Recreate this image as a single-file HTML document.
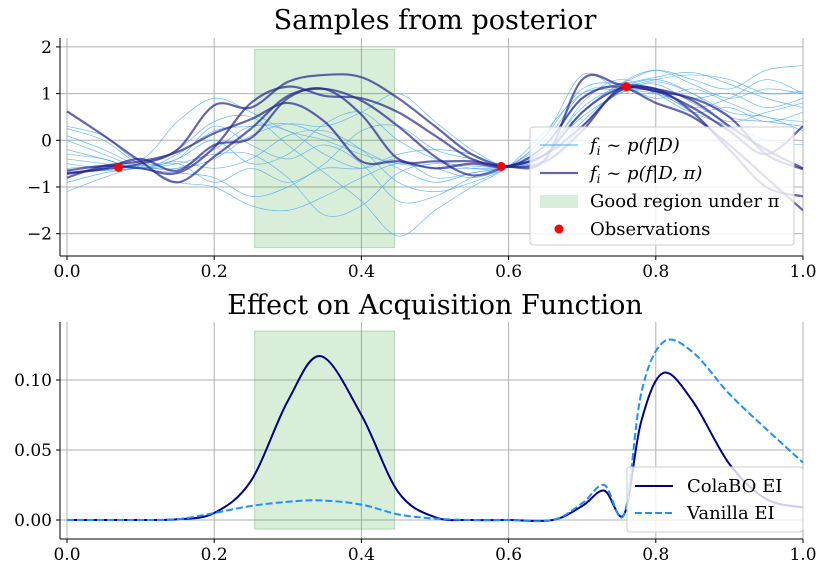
<!DOCTYPE html>
<html><head><meta charset="utf-8"><style>
body{margin:0;background:#fff;}
svg{display:block;font-family:"DejaVu Serif","Liberation Serif",serif;}
</style></head><body>
<svg id="chart" width="830" height="577" viewBox="0 0 830 577" xmlns="http://www.w3.org/2000/svg"></svg>
<script>
const xTicks=[0,0.2,0.4,0.6,0.8,1.0];
const xTickLabels=["0.0","0.2","0.4","0.6","0.8","1.0"];
const topYTicks=[2,1,0,-1,-2];
const topYTickLabels=["2","1","0","\u22121","\u22122"];
const botYTicks=[0,0.05,0.10];
const botYTickLabels=["0.00","0.05","0.10"];
const sampleX=[0,0.05,0.1,0.15,0.2,0.25,0.3,0.35,0.4,0.45,0.5,0.55,0.6,0.65,0.7,0.75,0.8,0.85,0.9,0.95,1.0];
const darkSamples=[
[0.62,0.1,-0.45,-0.9,-0.35,0.25,0.95,1.1,0.85,0.3,-0.35,-0.75,-0.55,-0.3,0.6,1.1,1.05,0.7,0.2,-0.3,0.3],
[-0.7,-0.62,-0.5,-0.2,0.75,0.7,1.25,1.4,1.35,0.9,0.3,-0.3,-0.56,-0.4,1.3,1.2,1.05,0.9,0.5,-0.3,-0.62],
[-0.72,-0.6,-0.4,-0.65,-0.1,0.05,0.9,1.1,0.55,-0.4,-0.45,-0.45,-0.55,-0.3,0.3,1.05,1.1,0.6,-0.2,-1.0,-1.2],
[-0.8,-0.55,-0.45,-0.25,0.15,0.45,0.8,0.4,-0.45,-0.45,-0.6,-0.5,-0.56,-0.1,0.9,1.15,0.8,0.5,-0.1,-0.8,-1.5],
[-0.65,-0.55,-0.6,-0.7,-0.15,0.8,1.15,0.95,0.9,0.6,0.1,-0.4,-0.57,-0.45,0.2,1.1,1.1,0.85,0.3,-0.2,-0.6]];
const lightSamples=[
[0.3,0.1,-0.4,0.4,0.9,0.6,0.2,0.0,-0.3,-0.5,-0.6,-0.8,-0.56,0.0,1.0,1.2,1.5,1.3,1.1,1.5,1.6],
[-0.3,-0.4,-0.6,-0.3,0.2,0.3,0.35,0.1,-0.2,-0.6,-0.9,-0.7,-0.56,-0.2,0.6,1.1,1.3,1.0,0.5,0.4,0.3],
[-1.1,-0.8,-0.6,-0.9,-1.0,-1.4,-1.5,-1.2,-0.8,-0.5,-0.6,-0.6,-0.56,-0.1,0.9,1.2,1.1,0.9,1.0,0.7,0.9],
[0.1,-0.2,-0.55,-0.6,-0.4,0.1,0.35,0.3,0.6,1.0,0.4,-0.2,-0.56,-0.3,0.8,1.3,1.0,0.6,0.7,0.4,0.6],
[-0.4,-0.5,-0.6,-0.5,-0.3,-0.3,-0.8,-1.6,-1.4,-0.7,-0.5,-0.55,-0.56,-0.2,0.5,1.0,1.25,1.0,0.6,0.5,0.2],
[-0.6,-0.55,-0.55,-0.45,-0.6,-0.4,0.1,0.2,-0.2,-0.9,-1.1,-0.9,-0.56,0.1,1.4,1.1,1.05,0.6,0.3,0.0,-0.1],
[0.0,-0.3,-0.6,-0.7,-0.8,-1.2,-1.0,-0.5,0.2,0.3,-0.2,-0.4,-0.56,-0.3,0.6,1.2,1.5,1.2,0.9,1.1,1.0],
[-0.9,-0.7,-0.55,-0.2,0.4,0.5,-0.1,-0.7,-1.3,-2.05,-1.5,-1.0,-0.56,0.2,1.0,1.1,1.2,0.8,0.4,0.6,0.8],
[-0.5,-0.6,-0.58,-0.6,-0.2,0.3,0.2,-0.3,-0.6,-0.4,-0.8,-0.7,-0.56,-0.4,0.4,1.05,1.3,1.4,1.3,1.0,1.05],
[-0.2,-0.4,-0.6,-0.4,0.0,-0.5,-0.3,0.35,0.6,0.0,-0.4,-0.6,-0.56,0.1,1.1,1.2,0.9,1.1,0.8,0.5,0.4],
[-0.7,-0.65,-0.6,-0.5,-0.9,-0.6,-0.9,-0.6,-0.6,-0.3,-0.2,-0.3,-0.56,-0.2,0.7,1.15,1.35,1.45,1.2,0.9,0.7],
[0.25,0.0,-0.5,-0.4,0.3,-0.1,-0.4,-0.1,-0.5,-1.3,-1.2,-0.8,-0.56,-0.5,0.3,1.0,1.0,0.7,0.9,1.3,1.0]];
const obsX=[0.07,0.59,0.76];
const obsY=[-0.58,-0.56,1.15];
const acqX=[0,0.1,0.15,0.2,0.25,0.3,0.345,0.4,0.45,0.5,0.55,0.6,0.66,0.7,0.73,0.757,0.78,0.81,0.85,0.9,0.95,1.0];
const colaboEI=[0,0,0.0005,0.005,0.028,0.085,0.117,0.075,0.02,0.002,0,0,0,0.01,0.021,0.004,0.07,0.105,0.085,0.04,0.015,0.009];
const vanillaEI=[0,0,0.0005,0.005,0.01,0.013,0.014,0.011,0.004,0.001,0,0,0,0.012,0.025,0.004,0.09,0.127,0.12,0.09,0.065,0.041];
const regionLo=0.255, regionHi=0.445;

const NS="http://www.w3.org/2000/svg";
const svg=document.getElementById('chart');
function mk(t,a,p){const e=document.createElementNS(NS,t);for(const k in a)e.setAttribute(k,a[k]);(p||svg).appendChild(e);return e;}
const X0=67,X1=803;
const xs=v=>X0+v*(X1-X0);
const ysTop=v=>140.3-v*46.7;
const ysBot=v=>520-v*1400;
function smoothPath(px,py){let d=`M${px[0]},${py[0]}`;for(let i=0;i<px.length-1;i++){const x0=px[Math.max(i-1,0)],y0=py[Math.max(i-1,0)],x1=px[i],y1=py[i],x2=px[i+1],y2=py[i+1],x3=px[Math.min(i+2,px.length-1)],y3=py[Math.min(i+2,px.length-1)];d+=` C${x1+(x2-x0)/6},${y1+(y2-y0)/6} ${x2-(x3-x1)/6},${y2-(y3-y1)/6} ${x2},${y2}`;}return d;}

function axes(ys,yT,top,bottom,prefix){
  const g=mk('g',{});
  
  
  xTicks.forEach(t=>{const l=mk('line',{x1:xs(t),x2:xs(t),y1:top,y2:bottom,stroke:'#b0b0b0','stroke-width':1},g);});
  yT.forEach(t=>{const l=mk('line',{x1:60,x2:803,y1:ys(t),y2:ys(t),stroke:'#b0b0b0','stroke-width':1},g);});
}
function axisFrame(ys,yT,yL,top,bottom,title,titleY,prefix){
  const g=mk('g',{});
  
  
  mk('line',{x1:60,x2:60,y1:top,y2:bottom,stroke:'#000','stroke-width':1},g);
  mk('line',{x1:60,x2:803,y1:bottom,y2:bottom,stroke:'#000','stroke-width':1},g);
  xTicks.forEach((t,i)=>{mk('line',{x1:xs(t),x2:xs(t),y1:bottom,y2:bottom+4,stroke:'#000'},g);const tx=mk('text',{x:xs(t),y:bottom+21,'text-anchor':'middle','font-size':17},g);tx.textContent=xTickLabels[i];});
  yT.forEach((t,i)=>{mk('line',{x1:56,x2:60,y1:ys(t),y2:ys(t),stroke:'#000'},g);const tx=mk('text',{x:52,y:ys(t)+6,'text-anchor':'end','font-size':17},g);tx.textContent=yL[i];});
  const tt=mk('text',{x:435,y:titleY,'text-anchor':'middle','font-size':27},g);tt.textContent=title;
  
  
}
// TOP
axes(ysTop,topYTicks,38,256,'top');
const r1=mk('rect',{x:xs(regionLo),y:ysTop(1.95),width:xs(regionHi)-xs(regionLo),height:ysTop(-2.3)-ysTop(1.95),fill:'#2ca02c','fill-opacity':0.18,stroke:'#2ca02c','stroke-opacity':0.3});


const clipTop=mk('clipPath',{id:'ct'});mk('rect',{x:60,y:38,width:743,height:218},clipTop);
const gTop=mk('g',{'clip-path':'url(#ct)'});
lightSamples.forEach(s=>{const p=mk('path',{d:smoothPath(sampleX.map(xs),s.map(ysTop)),fill:'none',stroke:'#4aa8f0','stroke-width':0.7,'stroke-opacity':0.8},gTop);});
darkSamples.forEach(s=>{const p=mk('path',{d:smoothPath(sampleX.map(xs),s.map(ysTop)),fill:'none',stroke:'#23238e','stroke-width':2.2,'stroke-opacity':0.7},gTop);});
obsX.forEach((x,i)=>{const c=mk('circle',{cx:xs(x),cy:ysTop(obsY[i]),r:4.5,fill:'#ff0000'});});
axisFrame(ysTop,topYTicks,topYTickLabels,38,256,'Samples from posterior',29,'top');
// top legend
const lg=mk('g',{});


mk('rect',{x:530,y:127,width:264,height:118,rx:3,fill:'#fff','fill-opacity':0.8,stroke:'#ccc'},lg);
mk('line',{x1:540,x2:578,y1:145,y2:145,stroke:'#4aa8f0','stroke-width':1},lg);
mk('line',{x1:540,x2:578,y1:173,y2:173,stroke:'#23238e','stroke-width':2.2,'stroke-opacity':0.7},lg);
mk('rect',{x:540,y:195,width:38,height:13,fill:'#2ca02c','fill-opacity':0.18},lg);
mk('circle',{cx:559,cy:229,r:4.5,fill:'#f00'},lg);
let t=mk('text',{x:590,y:151,'font-size':18,'font-style':'italic'},lg);t.innerHTML='f<tspan font-size="12" dy="4">i</tspan><tspan dy="-4"> ~ p(f|D)</tspan>';
t=mk('text',{x:590,y:179,'font-size':18,'font-style':'italic'},lg);t.innerHTML='f<tspan font-size="12" dy="4">i</tspan><tspan dy="-4"> ~ p(f|D, π)</tspan>';
t=mk('text',{x:590,y:207,'font-size':18},lg);t.textContent='Good region under π';
t=mk('text',{x:590,y:235,'font-size':18},lg);t.textContent='Observations';
// BOTTOM
axes(ysBot,botYTicks,322,539,'bottom');
const r2=mk('rect',{x:xs(regionLo),y:ysBot(0.135),width:xs(regionHi)-xs(regionLo),height:ysBot(-0.0065)-ysBot(0.135),fill:'#2ca02c','fill-opacity':0.18,stroke:'#2ca02c','stroke-opacity':0.3});


const pc=mk('path',{d:smoothPath(acqX.map(xs),colaboEI.map(ysBot)),fill:'none',stroke:'#000080','stroke-width':2});


const pv=mk('path',{d:smoothPath(acqX.map(xs),vanillaEI.map(ysBot)),fill:'none',stroke:'#1e90ff','stroke-width':2,'stroke-dasharray':'7,3'});


axisFrame(ysBot,botYTicks,botYTickLabels,322,539,'Effect on Acquisition Function',314,'bottom');
const lg2=mk('g',{});


mk('rect',{x:627,y:467,width:176,height:65,rx:3,fill:'#fff','fill-opacity':0.8,stroke:'#ccc'},lg2);
mk('line',{x1:635,x2:673,y1:486,y2:486,stroke:'#000080','stroke-width':2},lg2);
mk('line',{x1:635,x2:673,y1:513,y2:513,stroke:'#1e90ff','stroke-width':2,'stroke-dasharray':'7,3'},lg2);
t=mk('text',{x:687,y:492,'font-size':18},lg2);t.textContent='ColaBO EI';
t=mk('text',{x:687,y:519,'font-size':18},lg2);t.textContent='Vanilla EI';
</script>
</body></html>
